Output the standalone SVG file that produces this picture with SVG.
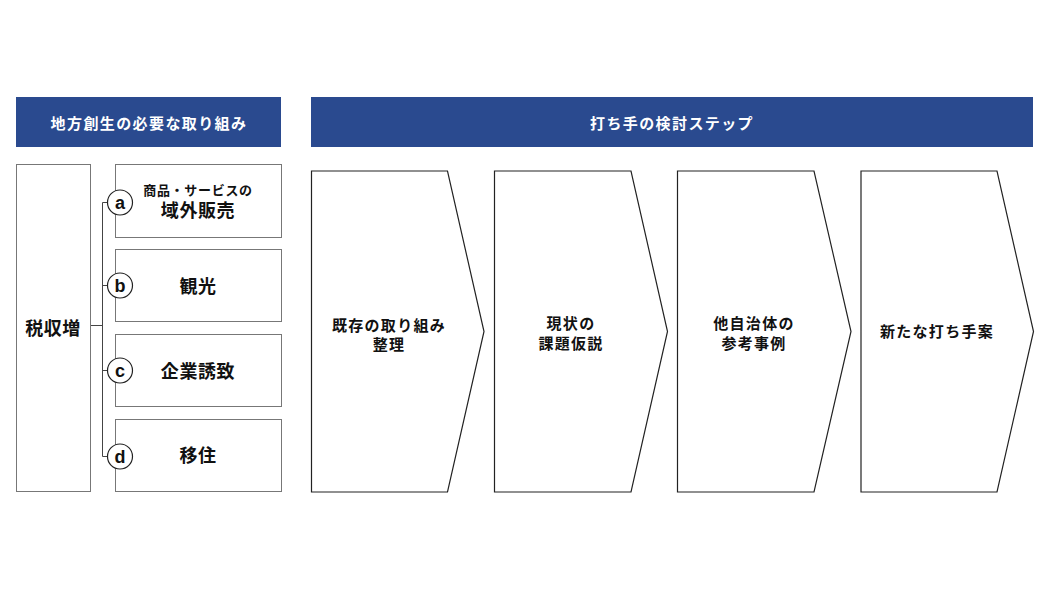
<svg xmlns="http://www.w3.org/2000/svg" width="1050" height="590" viewBox="0 0 1050 590">
<style>
text{font-family:"Noto Sans CJK JP","Noto Sans CJK SC",sans-serif;font-weight:bold;text-anchor:middle;dominant-baseline:central;fill:#111}
.hd{fill:#2a4a8f}
.hdt{fill:#fff;font-size:15px;letter-spacing:1.4px}
.box{fill:#fff;stroke:#777;stroke-width:1}
.chev{fill:#fff;stroke:#222;stroke-width:1.2}
.circ{fill:#fff;stroke:#222;stroke-width:1.2}
.lt{font-family:"Liberation Sans",Arial,sans-serif;font-size:18px}
.ln{fill:none;stroke:#444;stroke-width:1}
.st{font-size:15px;letter-spacing:1.3px}
.it{font-size:18px;letter-spacing:0.6px}
</style>
<rect width="1050" height="590" fill="#fff"/>
<g id="header-left"><rect class="hd" x="16" y="97" width="265" height="50"/><text class="hdt" x="149" y="122">地方創生の必要な取り組み</text></g>
<g id="header-right"><rect class="hd" x="311" y="97" width="722" height="50"/><text class="hdt" x="672" y="122">打ち手の検討ステップ</text></g>
<g id="connectors">
<path class="ln" d="M91 325.5H102.5M102.5 202.5V456.5M102.5 202.5H108M102.5 285.5H108M102.5 370.5H108M102.5 456.5H108"/>
</g>
<g id="zeishu"><rect class="box" x="16.5" y="164.5" width="74" height="327"/><text x="53" y="327" font-size="18" letter-spacing="0.5">税収増</text></g>
<g id="item-a"><rect class="box" x="115.5" y="164.5" width="166" height="73"/><text x="198" y="189" font-size="13" letter-spacing="0.7">商品・サービスの</text><text class="it" x="198" y="209">域外販売</text><circle class="circ" cx="120" cy="202.5" r="12.5"/><text class="lt" x="120" y="202.5">a</text></g>
<g id="item-b"><rect class="box" x="115.5" y="249.5" width="166" height="72"/><text class="it" x="198" y="285">観光</text><circle class="circ" cx="120" cy="285.5" r="12.5"/><text class="lt" x="120" y="285.5">b</text></g>
<g id="item-c"><rect class="box" x="115.5" y="334.5" width="166" height="72"/><text class="it" x="198" y="370">企業誘致</text><circle class="circ" cx="120" cy="370.5" r="12.5"/><text class="lt" x="120" y="370.5">c</text></g>
<g id="item-d"><rect class="box" x="115.5" y="419.5" width="166" height="72"/><text class="it" x="198" y="454">移住</text><circle class="circ" cx="120" cy="456.5" r="12.5"/><text class="lt" x="120" y="456.5">d</text></g>
<g id="step1"><path class="chev" d="M311.5 171H447.5L484 331.5L447.5 492H311.5Z"/><text class="st" x="389" y="324">既存の取り組み</text><text class="st" x="389" y="343">整理</text></g>
<g id="step2"><path class="chev" d="M494.5 171H631L667.5 331.5L631 492H494.5Z"/><text class="st" x="571" y="322">現状の</text><text class="st" x="571" y="342">課題仮説</text></g>
<g id="step3"><path class="chev" d="M677.5 171H814L851 331.5L814 492H677.5Z"/><text class="st" x="754" y="322">他自治体の</text><text class="st" x="754" y="342">参考事例</text></g>
<g id="step4"><path class="chev" d="M861 171H997L1033.5 331.5L997 492H861Z"/><text class="st" x="937" y="330">新たな打ち手案</text></g>
</svg>
